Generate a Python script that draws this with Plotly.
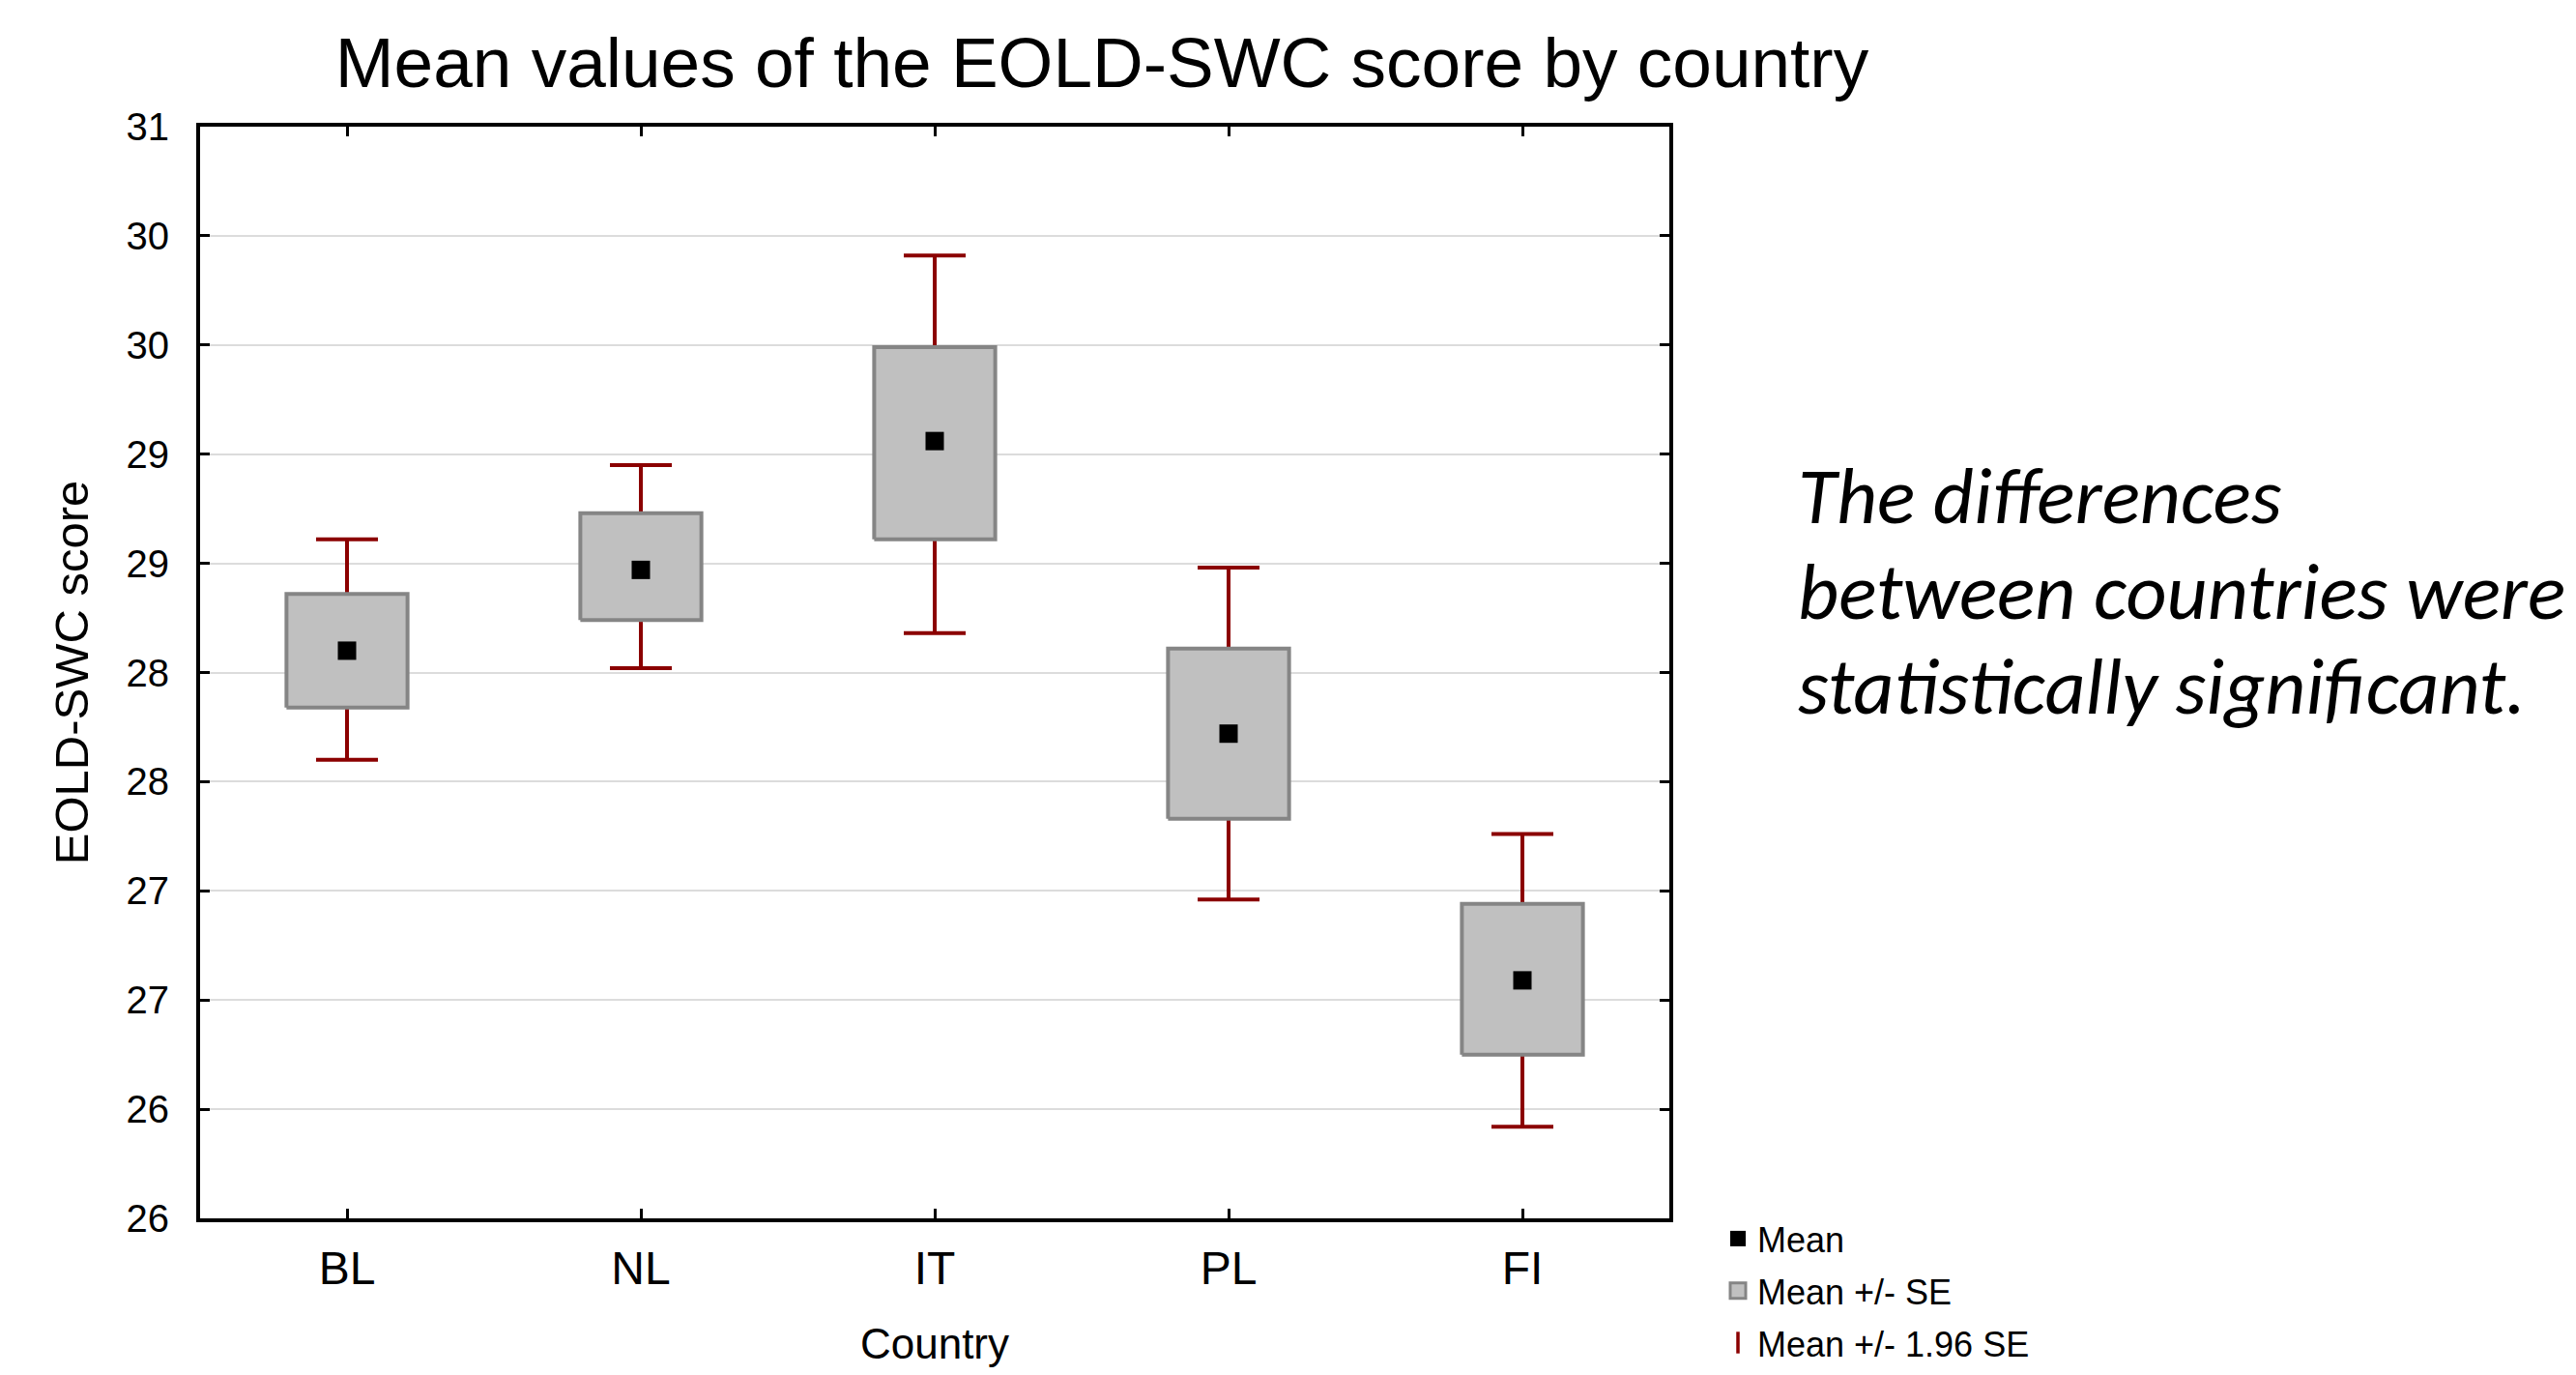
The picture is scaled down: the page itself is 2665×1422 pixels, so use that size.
import plotly.graph_objects as go

# ---- data ----
countries = ["BL", "NL", "IT", "PL", "FI"]
means   = [28.60, 28.97, 29.56, 28.22, 27.09]
se_low  = [28.34, 28.74, 29.11, 27.83, 26.75]
se_high = [28.86, 29.23, 29.99, 28.61, 27.44]
ci_low  = [28.10, 28.52, 28.68, 27.46, 26.42]
ci_high = [29.11, 29.45, 30.41, 28.98, 27.76]

y_tickvals = [26, 26.5, 27, 27.5, 28, 28.5, 29, 29.5, 30, 30.5, 31]
y_ticktext = ["26", "26", "27", "27", "28", "28", "29", "29", "30", "30", "31"]

note_lines = ["The differences", "between countries were", "statistically significant."]

# page is 2665x1422, the figure sits inside the default 8px body margin
OFF = 8
W, H = 2665 - 2 * OFF, 1422 - 2 * OFF
L, R, T, B = 207 - OFF, 1727 - OFF, 131 - OFF, 1260 - OFF
PW, PH = R - L, B - T


def px(xp):   # page x pixel -> paper x
    return (xp - OFF - L) / PW


def py(yp):   # page y pixel -> paper y
    return (B - (yp - OFF)) / PH


DARKRED = "#8B0000"
BOXFILL = "#c0c0c0"
BOXLINE = "#858585"
FONT = "Liberation Sans, Arial, sans-serif"

xpos = list(range(len(countries)))
half = 0.206

# box polygons (mean +/- SE)
bx, by = [], []
for i, lo, hi in zip(xpos, se_low, se_high):
    bx += [i - half, i + half, i + half, i - half, i - half, None]
    by += [lo, lo, hi, hi, lo, None]

fig = go.Figure()

# whiskers (mean +/- 1.96 SE), drawn first so the box covers the stem
fig.add_trace(go.Scatter(
    x=xpos, y=means, mode="markers",
    name="Mean +/- 1.96 SE", legendrank=3, legendgroup="c",
    marker=dict(symbol="line-ns", size=18, color=DARKRED,
                line=dict(color=DARKRED, width=3.5)),
    error_y=dict(type="data", symmetric=False,
                 array=[h - m for h, m in zip(ci_high, means)],
                 arrayminus=[m - l for m, l in zip(means, ci_low)],
                 color=DARKRED, thickness=4, width=32),
    hoverinfo="skip",
))

fig.add_trace(go.Scatter(
    x=bx, y=by, mode="lines", fill="toself",
    fillcolor=BOXFILL, line=dict(color=BOXLINE, width=4),
    showlegend=False, hoverinfo="skip",
))
# legend entry for the SE box
fig.add_trace(go.Scatter(
    x=[None], y=[None], mode="markers",
    marker=dict(symbol="square", size=30, color=BOXFILL,
                line=dict(color=BOXLINE, width=3)),
    name="Mean +/- SE", legendrank=2, legendgroup="b",
))

fig.add_trace(go.Scatter(
    x=xpos, y=means, mode="markers",
    marker=dict(symbol="square", size=19, color="black"),
    name="Mean", legendrank=1, legendgroup="a",
))

fig.update_layout(
    width=W, height=H,
    paper_bgcolor="white", plot_bgcolor="white",
    margin=dict(l=L, r=W - R, t=T, b=H - B, autoexpand=False),
    title=dict(text="Mean values of the EOLD-SWC score by country",
               x=(1140 - OFF) / W, xanchor="center",
               y=1 - (64 - OFF) / H, yanchor="middle",
               font=dict(family=FONT, size=73, color="black")),
    showlegend=True,
    legend=dict(x=px(1778), xanchor="left", y=py(1251), yanchor="top",
                font=dict(family=FONT, size=36, color="black"),
                bgcolor="rgba(0,0,0,0)", traceorder="grouped",
                tracegroupgap=4, itemsizing="trace"),
    font=dict(family=FONT, color="black"),
)

fig.update_xaxes(
    range=[-0.5, len(countries) - 0.5],
    tickmode="array", tickvals=xpos, ticktext=countries,
    ticks="inside", ticklen=10, tickwidth=3, tickcolor="black",
    showline=True, linewidth=4, linecolor="black", mirror="ticks",
    showgrid=False, zeroline=False,
    tickfont=dict(family=FONT, size=48, color="black"),
    ticklabelstandoff=6,
    title=dict(text="Country", standoff=56,
               font=dict(family=FONT, size=44, color="black")),
)

fig.update_yaxes(
    range=[26, 31],
    tickmode="array", tickvals=y_tickvals, ticktext=y_ticktext,
    ticks="inside", ticklen=10, tickwidth=3, tickcolor="black",
    showline=True, linewidth=4, linecolor="black", mirror="ticks",
    showgrid=True, gridcolor="#dcdcdc", gridwidth=2, zeroline=False,
    tickfont=dict(family=FONT, size=40, color="black"),
    ticklabelstandoff=20,
    title=dict(text="EOLD-SWC score", standoff=24,
               font=dict(family=FONT, size=49, color="black")),
)

for k, (line, yc) in enumerate(zip(note_lines, [513, 612, 710])):
    fig.add_annotation(
        text=line, xref="paper", yref="paper",
        x=px(1858), xanchor="left", y=py(yc), yanchor="middle",
        align="left", showarrow=False,
        font=dict(family="Carlito, Lato, sans-serif", size=82, color="black",
                  style="italic"),
    )

fig.write_html("out.html")
